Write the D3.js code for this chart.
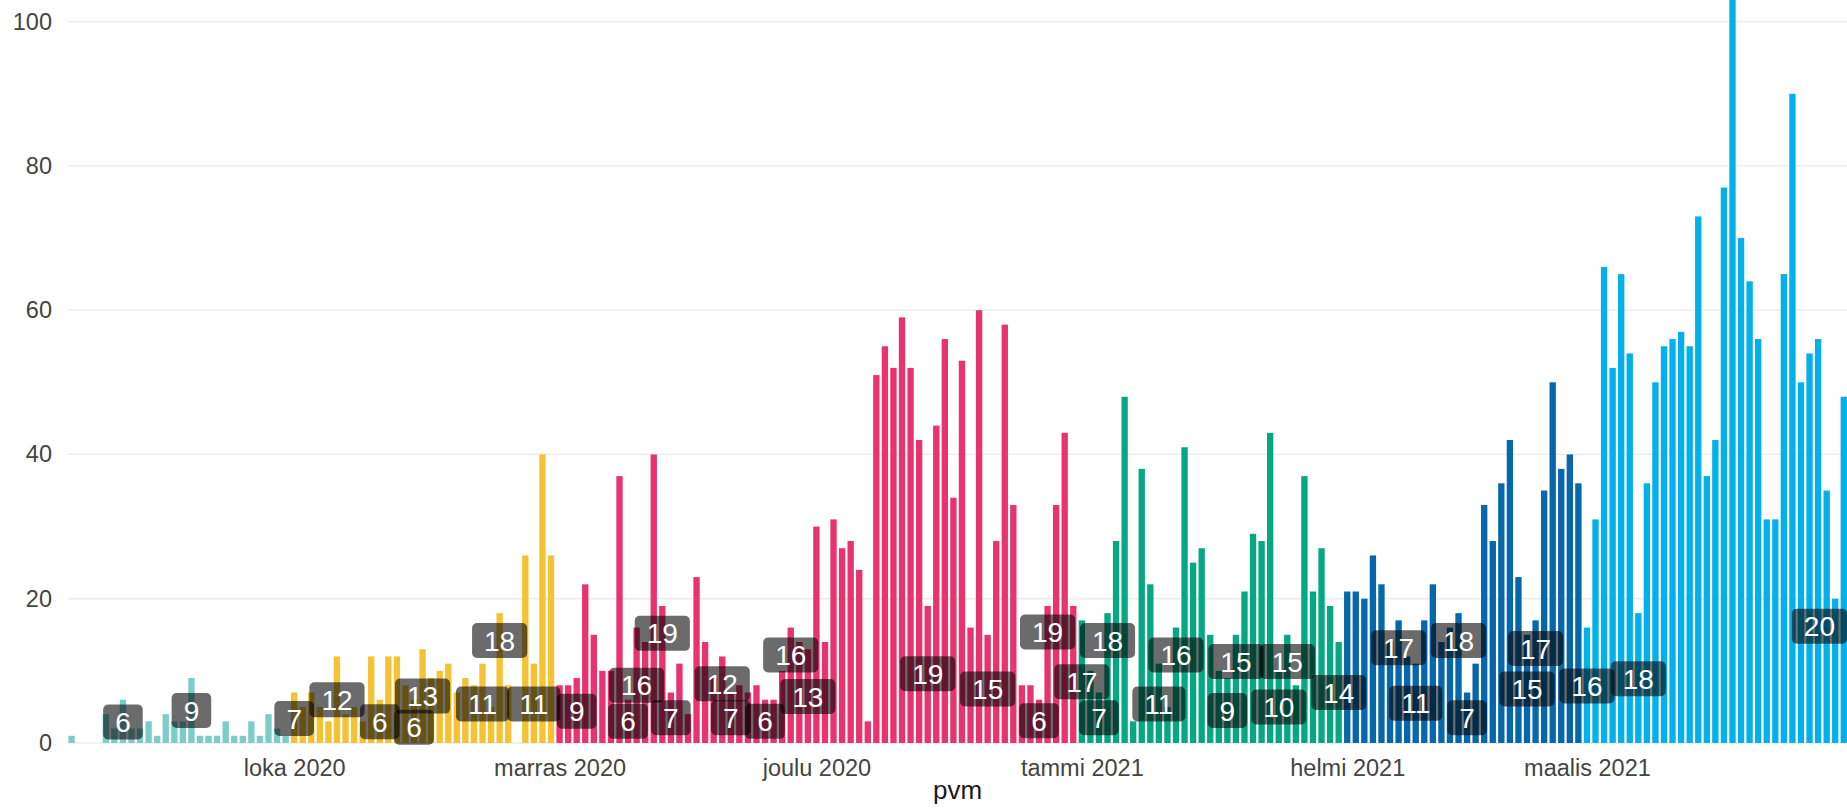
<!DOCTYPE html>
<html lang="fi">

<head>
  <meta charset="utf-8">
  <title>Tapaukset päivittäin</title>
  <script src="https://d3js.org/d3.v7.min.js"></script>
  <style>
    body {
      margin: 0;
      background: #fff;
      font-family: "Liberation Sans", Arial, sans-serif;
    }

    .grid line {
      stroke: #ebebeb;
      stroke-width: 1.3;
    }

    .akseli text {
      fill: #444;
      font-size: 23.5px;
      font-family: "Liberation Sans", Arial, sans-serif;
    }

    .otsikko {
      fill: #1a1a1a;
      font-size: 26px;
    }

    .merkinta text {
      fill: #fff;
      font-size: 28px;
    }
  </style>
</head>

<body>
  <div id="vis"></div>

  <script>
    // päivittäiset arvot, alkaen 5.9.2020
    var alkuPvm = "2020-09-05";
    var syyskuu = [1, 0, 0, 0, 4, 2, 6, 2, 2, 3, 1, 4, 3, 3, 9, 1, 1, 1, 3, 1, 1, 3, 1, 4, 2, 1];
    var lokakuu = [7, 5, 7, 5, 3, 12, 4, 5, 3, 12, 6, 12, 12, 8, 6, 13, 9, 10, 11, 7, 9, 8, 11, 5, 18, 8, 0, 26, 11, 40, 26];
    var marraskuu = [8, 8, 9, 22, 15, 10, 10, 37, 6, 16, 14, 40, 19, 7, 11, 4, 23, 14, 9, 12, 7, 8, 7, 8, 6, 6, 10, 16, 14, 13];
    var joulukuu = [30, 14, 31, 27, 28, 24, 3, 51, 55, 52, 59, 52, 42, 19, 44, 56, 34, 53, 16, 60, 15, 28, 58, 33, 8, 8, 6, 19, 33, 43, 19];
    var tammikuu = [17, 10, 7, 18, 28, 48, 3, 38, 22, 11, 5, 16, 41, 25, 27, 15, 10, 9, 15, 21, 29, 28, 43, 10, 15, 8, 37, 21, 27, 19, 14];
    var helmikuu = [21, 21, 20, 26, 22, 14, 17, 12, 11, 17, 22, 14, 16, 18, 7, 11, 33, 28, 36, 42, 23, 15, 17, 35, 50, 38, 40, 36];
    var maaliskuu = [16, 31, 66, 52, 65, 54, 18, 36, 50, 55, 56, 57, 55, 73, 37, 42, 77, 103, 70, 64, 56, 31, 31, 65, 90, 50, 54, 56, 35, 20, 48];

    var kuukaudet = [syyskuu, lokakuu, marraskuu, joulukuu, tammikuu, helmikuu, maaliskuu];
    var varit = ["#7ccdca", "#f4c232", "#e8336f", "#e8336f", "#06a883", "#0767ab", "#02b1eb"];

    var tickPvm = ["2020-10-01", "2020-11-01", "2020-12-01", "2021-01-01", "2021-02-01", "2021-03-01"];
    var tickNimet = ["loka 2020", "marras 2020", "joulu 2020", "tammi 2021", "helmi 2021", "maalis 2021"];
    var yTicks = [0, 20, 40, 60, 80, 100];

    // merkityt päivät ja merkinnän korkeus (y-akselin yksiköissä)
    var merkintaPvm = ["2020-09-11", "2020-09-19", "2020-10-01", "2020-10-06", "2020-10-11", "2020-10-15",
      "2020-10-16", "2020-10-23", "2020-10-25", "2020-10-29", "2020-11-03", "2020-11-09", "2020-11-10",
      "2020-11-13", "2020-11-14", "2020-11-20", "2020-11-21", "2020-11-25", "2020-11-28", "2020-11-30",
      "2020-12-14", "2020-12-21", "2020-12-27", "2020-12-28", "2021-01-01", "2021-01-03", "2021-01-04",
      "2021-01-10", "2021-01-12", "2021-01-18", "2021-01-19", "2021-01-24", "2021-01-25", "2021-01-31",
      "2021-02-07", "2021-02-09", "2021-02-14", "2021-02-15", "2021-02-22", "2021-02-23", "2021-03-01",
      "2021-03-07", "2021-03-30"];
    var merkintaKorkeus = [2.9, 4.5, 3.4, 6.0, 2.95, 2.2, 6.5, 5.4, 14.2, 5.4, 4.4, 3.0, 8.0, 15.2, 3.5, 8.2,
      3.5, 3.0, 12.2, 6.45, 9.6, 7.5, 3.1, 15.4, 8.5, 3.5, 14.2, 5.4, 12.2, 4.5, 11.3, 5.0, 11.3, 7.0, 13.2,
      5.5, 14.2, 3.5, 7.5, 13.1, 7.9, 8.9, 16.2];

    var leveys = 1847, korkeus = 808;
    var vasen = 68, oikea = 1847, pohja = 743;

    var parse = d3.utcParse("%Y-%m-%d");
    var alku = parse(alkuPvm);

    var dados = [];
    kuukaudet.forEach(function (kk, m) {
      kk.forEach(function (v) {
        dados.push({ pvm: d3.utcDay.offset(alku, dados.length), arvo: v, vari: varit[m] });
      });
    });
    var loppu = dados[dados.length - 1].pvm;

    var x = d3.scaleUtc()
      .domain([d3.utcHour.offset(alku, -9.6), d3.utcHour.offset(loppu, 9.6)])
      .range([vasen, oikea]);

    var y = d3.scaleLinear()
      .domain([0, 103])
      .range([pohja, 0]);

    var paiva = x(d3.utcDay.offset(alku, 1)) - x(alku);
    var bw = paiva * 0.74;

    var svg = d3.select("#vis")
      .append("svg")
      .attr("width", leveys)
      .attr("height", korkeus);

    // vaakaviivat
    svg.append("g")
      .attr("class", "grid")
      .selectAll("line")
      .data(yTicks)
      .enter()
      .append("line")
      .attr("x1", vasen)
      .attr("x2", oikea)
      .attr("y1", d => y(d))
      .attr("y2", d => y(d));

    // pylväät
    svg.append("g")
      .selectAll("rect")
      .data(dados.filter(d => d.arvo > 0))
      .enter()
      .append("rect")
      .attr("x", d => x(d.pvm) - bw / 2)
      .attr("width", bw)
      .attr("y", d => y(d.arvo))
      .attr("height", d => pohja - y(d.arvo))
      .attr("fill", d => d.vari);

    // akselit
    var yAks = svg.append("g")
      .attr("class", "akseli")
      .attr("transform", "translate(60,0)")
      .call(d3.axisLeft(y).tickValues(yTicks).tickSize(0).tickPadding(8));
    yAks.select(".domain").remove();

    var xAks = svg.append("g")
      .attr("class", "akseli")
      .attr("transform", "translate(0," + pohja + ")")
      .call(d3.axisBottom(x)
        .tickValues(tickPvm.map(parse))
        .tickFormat((d, i) => tickNimet[i])
        .tickSize(0)
        .tickPadding(16));
    xAks.select(".domain").remove();

    svg.append("text")
      .attr("class", "otsikko")
      .attr("x", (vasen + oikea) / 2)
      .attr("y", 799)
      .attr("text-anchor", "middle")
      .text("pvm");

    // merkinnät
    var arvoPvm = {};
    dados.forEach(d => { arvoPvm[+d.pvm] = d.arvo; });

    var merkinnat = merkintaPvm.map(function (p, i) {
      var d = parse(p);
      return { pvm: d, arvo: arvoPvm[+d], korkeus: merkintaKorkeus[i] };
    });

    var lg = svg.append("g").attr("class", "merkinta");
    merkinnat.forEach(function (m) {
      var g = lg.append("g");
      var rect = g.append("rect");
      var t = g.append("text")
        .attr("text-anchor", "middle")
        .attr("dy", "0.36em")
        .text(m.arvo);
      var w = t.node().getComputedTextLength() + 24;
      var h = 35;
      var cx = x(m.pvm);
      var bx = Math.min(Math.max(cx - w / 2, vasen), oikea - w);
      var cy = y(m.korkeus);
      rect.attr("x", bx)
        .attr("y", cy - h / 2)
        .attr("width", w)
        .attr("height", h)
        .attr("rx", 5)
        .attr("fill", "#000")
        .attr("fill-opacity", 0.58);
      t.attr("x", bx + w / 2).attr("y", cy);
    });
  </script>
</body>

</html>
